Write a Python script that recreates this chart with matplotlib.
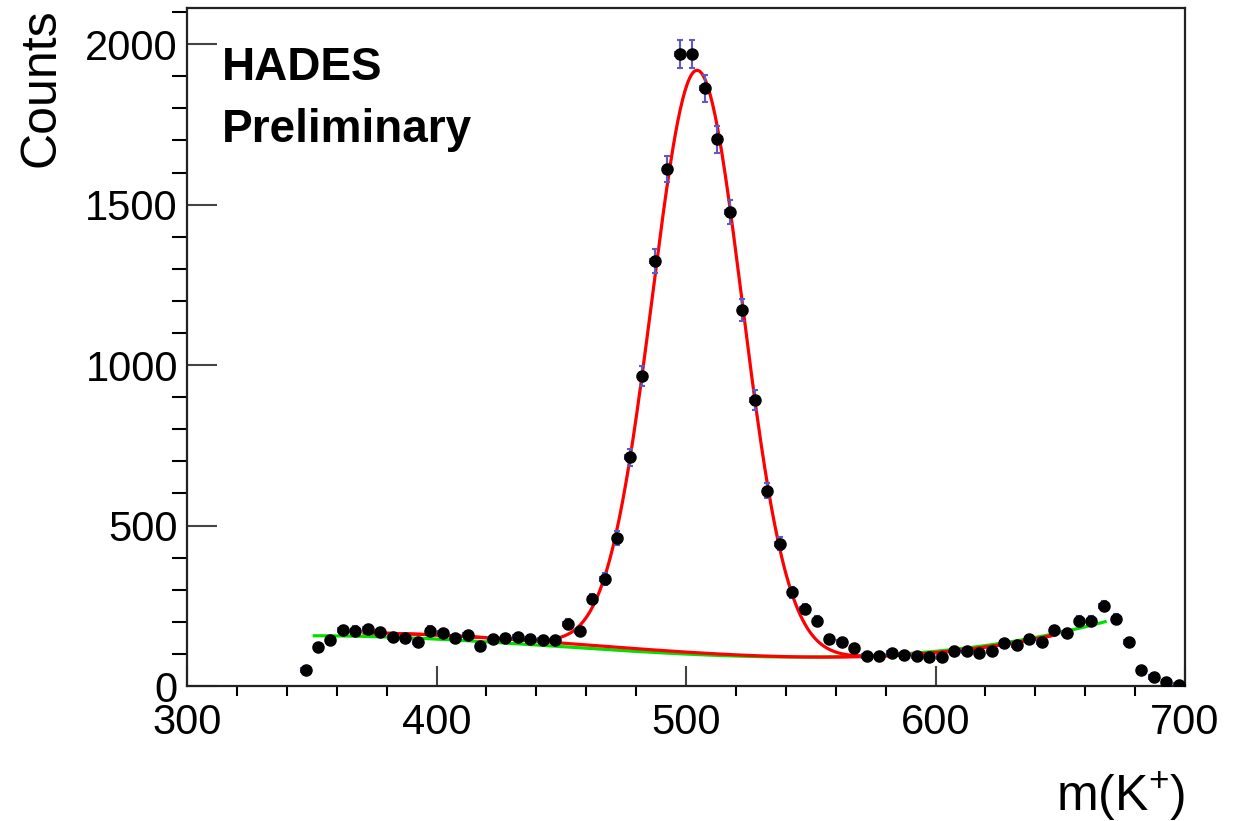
import numpy as np
import matplotlib
matplotlib.use('Agg')
import matplotlib.pyplot as plt
from matplotlib.ticker import MultipleLocator

plt.rcParams['font.family'] = ['Liberation Sans', 'DejaVu Sans']
plt.rcParams['mathtext.fontset'] = 'custom'
plt.rcParams['mathtext.rm'] = 'Liberation Sans'

# K+ mass histogram, 5 MeV bins
mass = np.arange(347.5, 700, 5.0)
counts = np.array([
    50, 121, 144, 175, 173, 178, 168, 152, 149, 138,
    173, 165, 149, 159, 125, 147, 149, 152, 146, 144,
    144, 194, 172, 271, 334, 461, 713, 965, 1324, 1612,
    1970, 1970, 1862, 1703, 1477, 1173, 891, 609, 444, 292,
    241, 204, 147, 138, 118, 95, 95, 102, 97, 95,
    92, 92, 110, 110, 104, 110, 133, 128, 146, 138,
    175, 165, 204, 204, 248, 209, 137, 50, 29, 13,
    2,
])
mass_err = 1.8

# gaussian part of the signal fit
peak_amp = 1815.0
peak_mean = 504.5
peak_sigma = 18.0

# background shapes (pol3) through these points
bkg_green_x = [351, 399, 452, 503, 554, 571, 598, 625, 651, 668]
bkg_green_y = [157, 146, 121, 101, 89, 95, 104, 131, 173, 198]
bkg_red_x = [371, 399, 447, 503, 537, 558, 598, 625, 648]
bkg_red_y = [167, 156, 139, 102, 92, 93, 99, 129, 159]


def plot_data():
    fig = plt.figure(figsize=(12.41, 8.21), dpi=100)
    ax = fig.add_axes([0.1507, 0.1644, 0.8042, 0.8256])

    green_pol = np.poly1d(np.polyfit(bkg_green_x, bkg_green_y, 3))
    red_pol = np.poly1d(np.polyfit(bkg_red_x, bkg_red_y, 3))

    xg = np.linspace(bkg_green_x[0], bkg_green_x[-1], 400)
    ax.plot(xg, green_pol(xg), color='#00e000', lw=2.3, zorder=2)

    xr = np.linspace(bkg_red_x[0], bkg_red_x[-1], 600)
    gaus = peak_amp * np.exp(-0.5 * ((xr - peak_mean) / peak_sigma) ** 2)
    ax.plot(xr, red_pol(xr), color='#ff0000', lw=2.3, zorder=3)
    ax.plot(xr, red_pol(xr) + gaus, color='#ff0000', lw=2.3, zorder=3)

    ax.errorbar(mass, counts, yerr=np.sqrt(counts), xerr=mass_err,
                fmt='o', color='black', ecolor='#5a5ac8', elinewidth=1.5,
                capsize=2.5, capthick=1.5, markersize=8, zorder=4)

    ax.set_xlim(300, 700)
    ax.set_ylim(0, 2112)
    ax.xaxis.set_major_locator(MultipleLocator(100))
    ax.xaxis.set_minor_locator(MultipleLocator(20))
    ax.yaxis.set_major_locator(MultipleLocator(500))
    ax.yaxis.set_minor_locator(MultipleLocator(100))

    ax.tick_params(axis='both', direction='in', colors='#444444',
                   labelcolor='black', labelsize=30, width=1.5)
    ax.tick_params(axis='y', which='major', length=21.5, pad=6.5)
    ax.tick_params(axis='y', which='minor', length=10.8, width=1.5)
    ax.tick_params(axis='x', which='major', length=14.5, pad=12.5)
    ax.tick_params(axis='x', which='minor', length=7.3, width=1.5)
    for s in ax.spines.values():
        s.set_linewidth(1.6)
        s.set_color('#222222')

    ax.set_ylabel('Counts', fontsize=36, loc='top')
    ax.yaxis.set_label_coords(-0.123, 1.0)
    ax.set_xlabel(r'm(K$^{+}$)', fontsize=36, loc='right')
    ax.xaxis.set_label_coords(1.0, -0.124)

    ax.text(0.035, 0.894, 'HADES', transform=ax.transAxes, fontsize=33,
            fontweight='bold', va='baseline', ha='left')
    ax.text(0.035, 0.802, 'Preliminary', transform=ax.transAxes, fontsize=33,
            fontweight='bold', va='baseline', ha='left')

    fig.savefig('out.png', dpi=100)


if __name__ == '__main__':
    plot_data()
